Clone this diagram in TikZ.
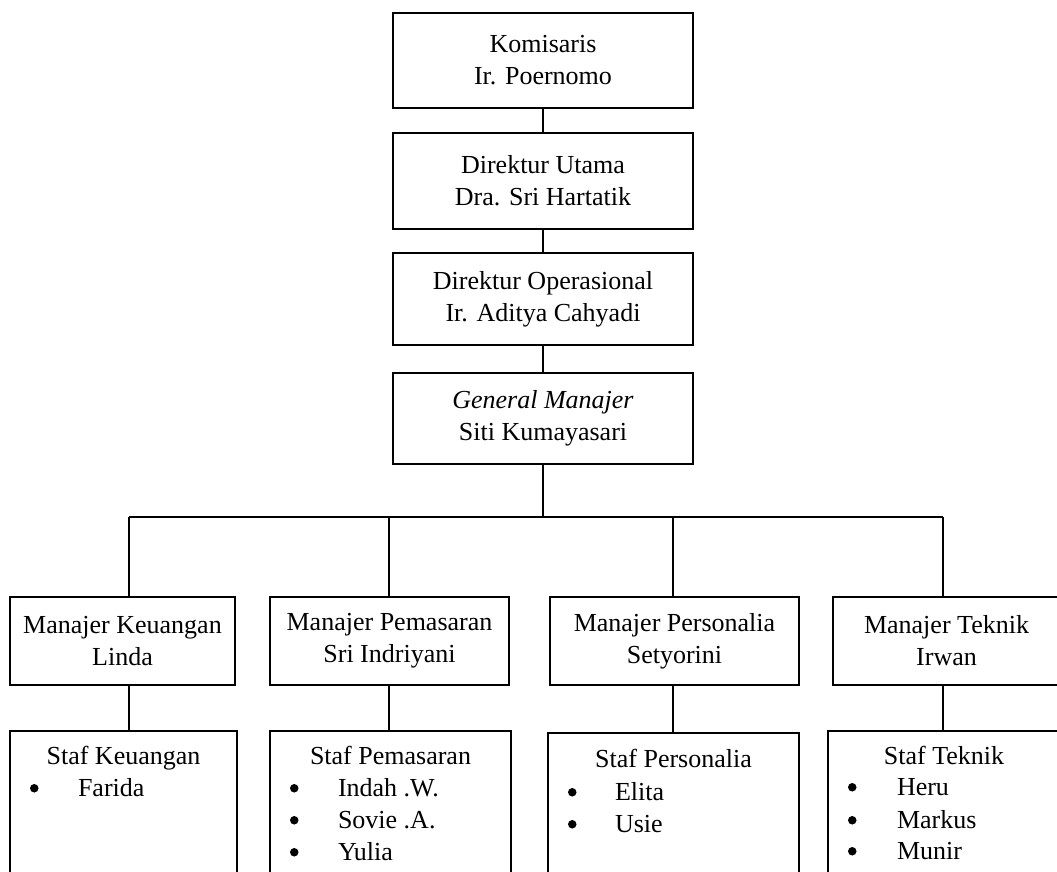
\documentclass[tikz,border=0pt]{standalone}
\usepackage{fontspec}
\setmainfont{Liberation Serif}
\usetikzlibrary{calc}
\begin{document}
\begin{tikzpicture}[x=1pt,y=-1pt, line width=1.5pt,
  box/.style={draw, rectangle, inner sep=0pt, align=center, font=\fontsize{26}{32}\selectfont},
  staffbox/.style={draw, rectangle, inner sep=0pt},
  txt/.style={font=\fontsize{26}{32}\selectfont, inner sep=0pt, anchor=base},
  ltxt/.style={txt, anchor=base west},
  dot/.style={circle, fill, draw=none, inner sep=0pt, minimum size=8.5pt}]
\useasboundingbox (0,0) rectangle (1057,871);
% top chain
\node[box, minimum width=300pt, minimum height=95pt] (kom) at (543,60.5) {Komisaris\\Ir. Poernomo};
\node[box, minimum width=300pt, minimum height=96pt] (du) at (543,181) {Direktur Utama\\Dra. Sri Hartatik};
\node[box, minimum width=300pt, minimum height=92pt] (dop) at (543,299) {Direktur Operasional\\Ir. Aditya Cahyadi};
\node[box, minimum width=300pt, minimum height=91pt] (gm) at (543,418.5) {\textit{General Manajer}\\Siti Kumayasari};
% managers
\node[box, minimum width=225pt, minimum height=88pt] (mk) at (122.5,641) {Manajer Keuangan\\Linda};
\node[box, minimum width=239pt, minimum height=88pt] (mp) at (389.5,641) {Manajer Pemasaran\\Sri Indriyani};
\node[box, minimum width=249pt, minimum height=88pt] (mpe) at (674.5,641) {Manajer Personalia\\Setyorini};
\node[box, minimum width=227pt, minimum height=88pt] (mt) at (946.5,641) {Manajer Teknik\\Irwan};
% staff boxes
\node[staffbox, minimum width=227pt, minimum height=169pt] (sk) at (123.5,815.5) {};
\node[staffbox, minimum width=241pt, minimum height=169pt] (sp) at (390.5,815.5) {};
\node[staffbox, minimum width=251pt, minimum height=167pt] (spe) at (673.5,816.5) {};
\node[staffbox, minimum width=232pt, minimum height=169pt] (st) at (944,815.5) {};
% staff texts
\node[txt] (skh) at ($(sk.north)+(0,34)$) {Staf Keuangan};
\node[dot] (skb1) at ($(sk.north west)+(25,58)$) {};
\node[ltxt] (sk1) at ($(sk.north west)+(68,66)$) {Farida};

\node[txt] (sph) at ($(sp.north)+(0,34)$) {Staf Pemasaran};
\node[dot] (spb1) at ($(sp.north west)+(25,58)$) {};
\node[ltxt] (sp1) at ($(sp.north west)+(68,66)$) {Indah .W.};
\node[dot] (spb2) at ($(sp.north west)+(25,90)$) {};
\node[ltxt] (sp2) at ($(sp.north west)+(68,98)$) {Sovie .A.};
\node[dot] (spb3) at ($(sp.north west)+(25,122)$) {};
\node[ltxt] (sp3) at ($(sp.north west)+(68,130)$) {Yulia};

\node[txt] (speh) at ($(spe.north)+(0,35)$) {Staf Personalia};
\node[dot] (speb1) at ($(spe.north west)+(25,60)$) {};
\node[ltxt] (spe1) at ($(spe.north west)+(67,68)$) {Elita};
\node[dot] (speb2) at ($(spe.north west)+(25,92)$) {};
\node[ltxt] (spe2) at ($(spe.north west)+(67,100)$) {Usie};

\node[txt] (sth) at ($(st.north)+(0,34)$) {Staf Teknik};
\node[dot] (stb1) at ($(st.north west)+(25,57)$) {};
\node[ltxt] (st1) at ($(st.north west)+(69,65)$) {Heru};
\node[dot] (stb2) at ($(st.north west)+(25,90)$) {};
\node[ltxt] (st2) at ($(st.north west)+(69,98)$) {Markus};
\node[dot] (stb3) at ($(st.north west)+(25,121)$) {};
\node[ltxt] (st3) at ($(st.north west)+(69,129)$) {Munir};
% connectors
\draw (kom) -- (du);
\draw (du) -- (dop);
\draw (dop) -- (gm);
\coordinate (bus) at (543,517);
\coordinate (jk) at (129,517);
\coordinate (jp) at (389,517);
\coordinate (jpe) at (673,517);
\coordinate (jt) at (943,517);
\draw (gm.south) -- (bus);
\draw (jk) -- (jt);
\draw (jk) -- (jk |- mk.north);
\draw (jp) -- (jp |- mp.north);
\draw (jpe) -- (jpe |- mpe.north);
\draw (jt) -- (jt |- mt.north);
\draw (jk |- mk.south) -- (jk |- sk.north);
\draw (jp |- mp.south) -- (jp |- sp.north);
\draw (jpe |- mpe.south) -- (jpe |- spe.north);
\draw (jt |- mt.south) -- (jt |- st.north);
\end{tikzpicture}
\end{document}
